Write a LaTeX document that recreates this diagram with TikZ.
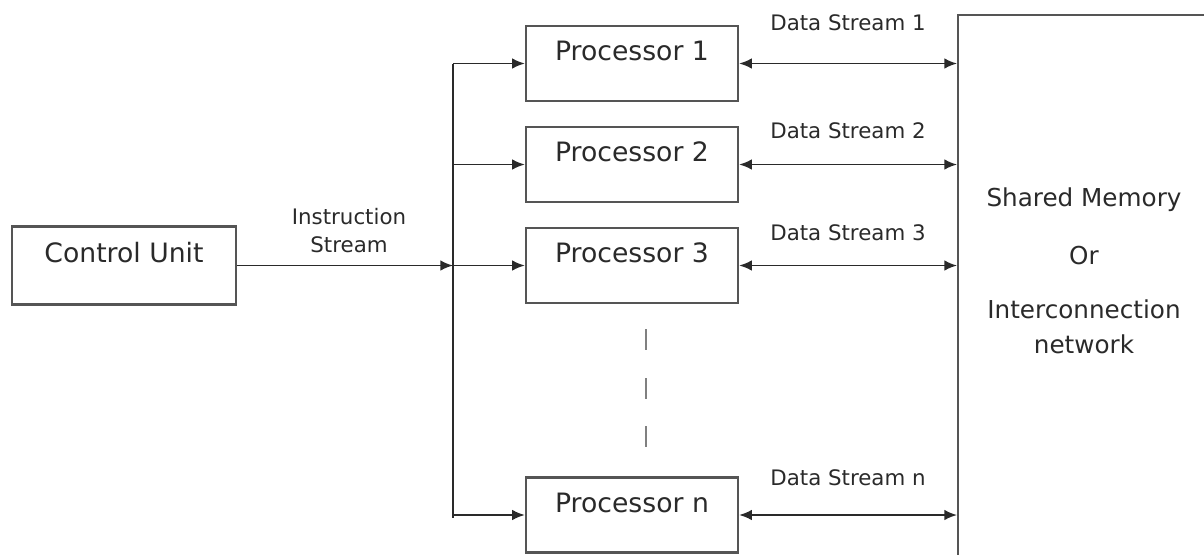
\documentclass[tikz,border=0pt]{standalone}
\usepackage{fontspec}
\setmainfont{DejaVu Sans}
\usetikzlibrary{arrows.meta}

\definecolor{ink}{HTML}{2A2A2A}
\definecolor{boxgray}{HTML}{555555}

\tikzset{
    unit/.style={draw=boxgray, line width=1.8pt, text=ink,
        font=\fontsize{20}{24}\selectfont,
        text height=15pt, text depth=19pt, minimum height=56pt},
    proc/.style={unit, minimum width=159pt},
    streamlabel/.style={text=ink, font=\fontsize{16}{21}\selectfont, align=center}
}

\begin{document}
\begin{tikzpicture}[x=0.75pt, y=-0.75pt, color=ink, line width=1.4pt,
    >={Latex[length=9.5pt,width=8pt]}]
    \useasboundingbox (0,0) rectangle (1204,554);

    \node[unit, minimum width=168pt, minimum height=58.5pt] (cu) at (124,265.5) {Control Unit};

    \node[proc] (p1) at (632,63.5) {Processor 1};
    \node[proc] (p2) at (632,164.5) {Processor 2};
    \node[proc] (p3) at (632,265.5) {Processor 3};
    \node[proc] (pn) at (632,515) {Processor n};

    \node[draw=boxgray, line width=1.8pt, anchor=north west,
        minimum width=200pt, minimum height=450pt] (mem) at (957,14) {};
    \node[text=ink, font=\fontsize{18.5}{26}\selectfont, align=center] (memtext) at (1084,271)
        {Shared Memory\\[17pt]Or\\[15pt]Interconnection\\network};

    % instruction bus
    \coordinate (bus1) at (453,63.5);
    \coordinate (bus2) at (453,164.5);
    \coordinate (bus3) at (453,265.5);
    \coordinate (busn) at (453,515);
    \coordinate (busend) at (453,518);
    \draw (bus1) -- (busend);
    \draw[->] (cu) -- (bus3);
    \node[streamlabel] (instr) at (349,231) {Instruction\\Stream};
    \foreach \i in {1,2,3,n}
        \draw[->] (bus\i) -- (p\i);

    % data streams
    \foreach \i in {1,2,3,n}
        \draw[<->] (p\i) -- (p\i -| mem.west);
    \node[streamlabel] (ds1) at (848,23) {Data Stream 1};
    \node[streamlabel] (ds2) at (848,131) {Data Stream 2};
    \node[streamlabel] (ds3) at (848,233) {Data Stream 3};
    \node[streamlabel] (dsn) at (848,478) {Data Stream n};

    \foreach \y in {329,378,426}
        \draw[gray, line width=1.6pt] (646,\y) -- (646,\y+21);
\end{tikzpicture}
\end{document}
